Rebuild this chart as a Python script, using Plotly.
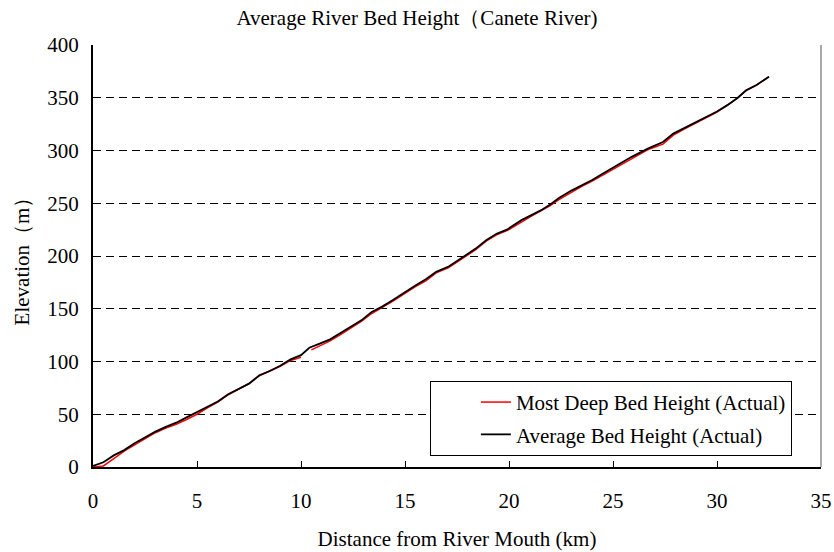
import plotly.graph_objects as go

# Distance from river mouth (km) and bed elevation (m)
avg_km = [0, 0.5, 1.0, 1.5, 2.0, 2.5, 3.0, 3.5, 4.0, 4.5, 5.0, 5.5, 6.0, 6.5, 7.0, 7.5,
          8.0, 8.5, 9.0, 9.5, 10.0, 10.4, 10.9, 11.4, 11.9, 12.4, 12.9, 13.4, 13.9, 14.4,
          15.0, 15.5, 16.0, 16.5, 17.1, 17.9, 18.4, 18.9, 19.4, 19.9, 20.6, 21.1, 21.6,
          22.0, 22.4, 23.0, 23.5, 24.0, 24.5, 25.1, 25.9, 26.7, 27.4, 27.9, 28.4, 29.0,
          29.5, 30.0, 30.5, 31.0, 31.4, 31.9, 32.5]
avg_m = [1, 4.5, 11, 16, 22.5, 28, 33.5, 38, 42, 47, 52, 57, 62, 69, 74, 79,
         87, 91, 96, 102, 106, 113, 117, 121, 127, 133, 139, 147, 152, 158,
         166, 172, 178, 185, 190, 200, 207, 215, 221, 225, 234, 239, 244,
         249, 255, 262, 267, 272, 278, 285, 294, 302, 308, 316, 321, 327,
         332, 337, 343, 350, 357, 362, 370]

deep_km = [0, 0.5, 1.0, 1.5, 2.0, 2.5, 3.0, 3.5, 4.0, 4.5, 5.0, 5.5, 6.0, 6.5, 7.0, 7.5,
           8.0, 8.5, 9.0, 9.5, 10.0, None, 10.5, 10.9, 11.4, 11.9, 12.4, 12.9, 13.4, 13.9,
           14.4, 15.0, 15.5, 16.0, 16.5, 17.1, 17.9, 18.4, 18.9, 19.4, 19.9, 20.6, 21.1,
           21.6, 22.0, 22.4, 23.0, 23.5, 24.0, 24.5, 25.1, 25.9, 26.7, 27.4, 27.9, 28.4,
           29.0, 29.5, 30.0, 30.5, 31.0, 31.4, 31.9, 32.5]
deep_m = [0, 1, 8, 15, 21, 27, 32.5, 37, 40.5, 45, 50, 56, 61.5, 68.5, 74, 79,
          86.5, 91, 95.5, 101, 104, None, 111, 115, 119.5, 125.5, 132, 138, 145.5, 151,
          157, 164.5, 171, 176.5, 184, 189, 199, 206, 214, 220, 224, 232.5, 238,
          243.5, 248, 253.5, 260.5, 266, 271, 276.5, 283.5, 292.5, 301, 306, 314.5, 320,
          326, 331.5, 336.5, 343, 350, 357, 362, 370]

x_ticks = [0, 5, 10, 15, 20, 25, 30, 35]
y_ticks = [0, 50, 100, 150, 200, 250, 300, 350, 400]

FONT = "Liberation Serif"
FS = 21

fig = go.Figure()
fig.add_trace(go.Scatter(x=deep_km, y=deep_m, mode="lines", connectgaps=False,
                         name="Most Deep Bed Height (Actual)", legendgroup="deep",
                         line=dict(color="#ff0000", width=1.5)))
fig.add_trace(go.Scatter(x=avg_km, y=avg_m, mode="lines",
                         name="Average Bed Height (Actual)", legendgroup="avg",
                         line=dict(color="#000000", width=1.8)))

fig.update_layout(
    width=834, height=552,
    margin=dict(l=93, r=13, t=45, b=85, autoexpand=False),
    paper_bgcolor="white", plot_bgcolor="white",
    font=dict(family=FONT, size=FS, color="black"),
    title=dict(text="Average River Bed Height（Canete River)", x=0.5, xanchor="center",
               y=0.968, yanchor="middle", font=dict(family=FONT, size=FS)),
    showlegend=True,
    legend=dict(x=0.96, xanchor="right", y=0.204, yanchor="top",
                bordercolor="black", borderwidth=1, bgcolor="white",
                indentation=45, tracegroupgap=2,
                font=dict(family=FONT, size=FS)),
)

fig.update_xaxes(range=[0, 35], tickvals=x_ticks, ticks="inside", ticklen=6,
                 tickcolor="black", showline=True, linecolor="black", linewidth=2,
                 showgrid=False, zeroline=False, automargin=False,
                 ticklabelstandoff=14,
                 title=dict(text="Distance from River Mouth (km)", standoff=19,
                            font=dict(family=FONT, size=FS)),
                 tickfont=dict(family=FONT, size=FS))
fig.update_yaxes(range=[0, 400], tickvals=y_ticks, ticks="inside", ticklen=6,
                 tickcolor="black", showline=True, linecolor="black", linewidth=2,
                 showgrid=True, gridcolor="black", gridwidth=1, griddash="8px,5px",
                 zeroline=False, automargin=False, ticklabelstandoff=8,
                 title=dict(text="Elevation（m）", standoff=12,
                            font=dict(family=FONT, size=FS)),
                 tickfont=dict(family=FONT, size=FS))

# thin frame on the right edge of the plotting area
fig.add_shape(type="line", xref="paper", yref="paper", x0=1, x1=1, y0=0, y1=1,
              line=dict(color="#555555", width=1))

fig.write_html("out.html")
